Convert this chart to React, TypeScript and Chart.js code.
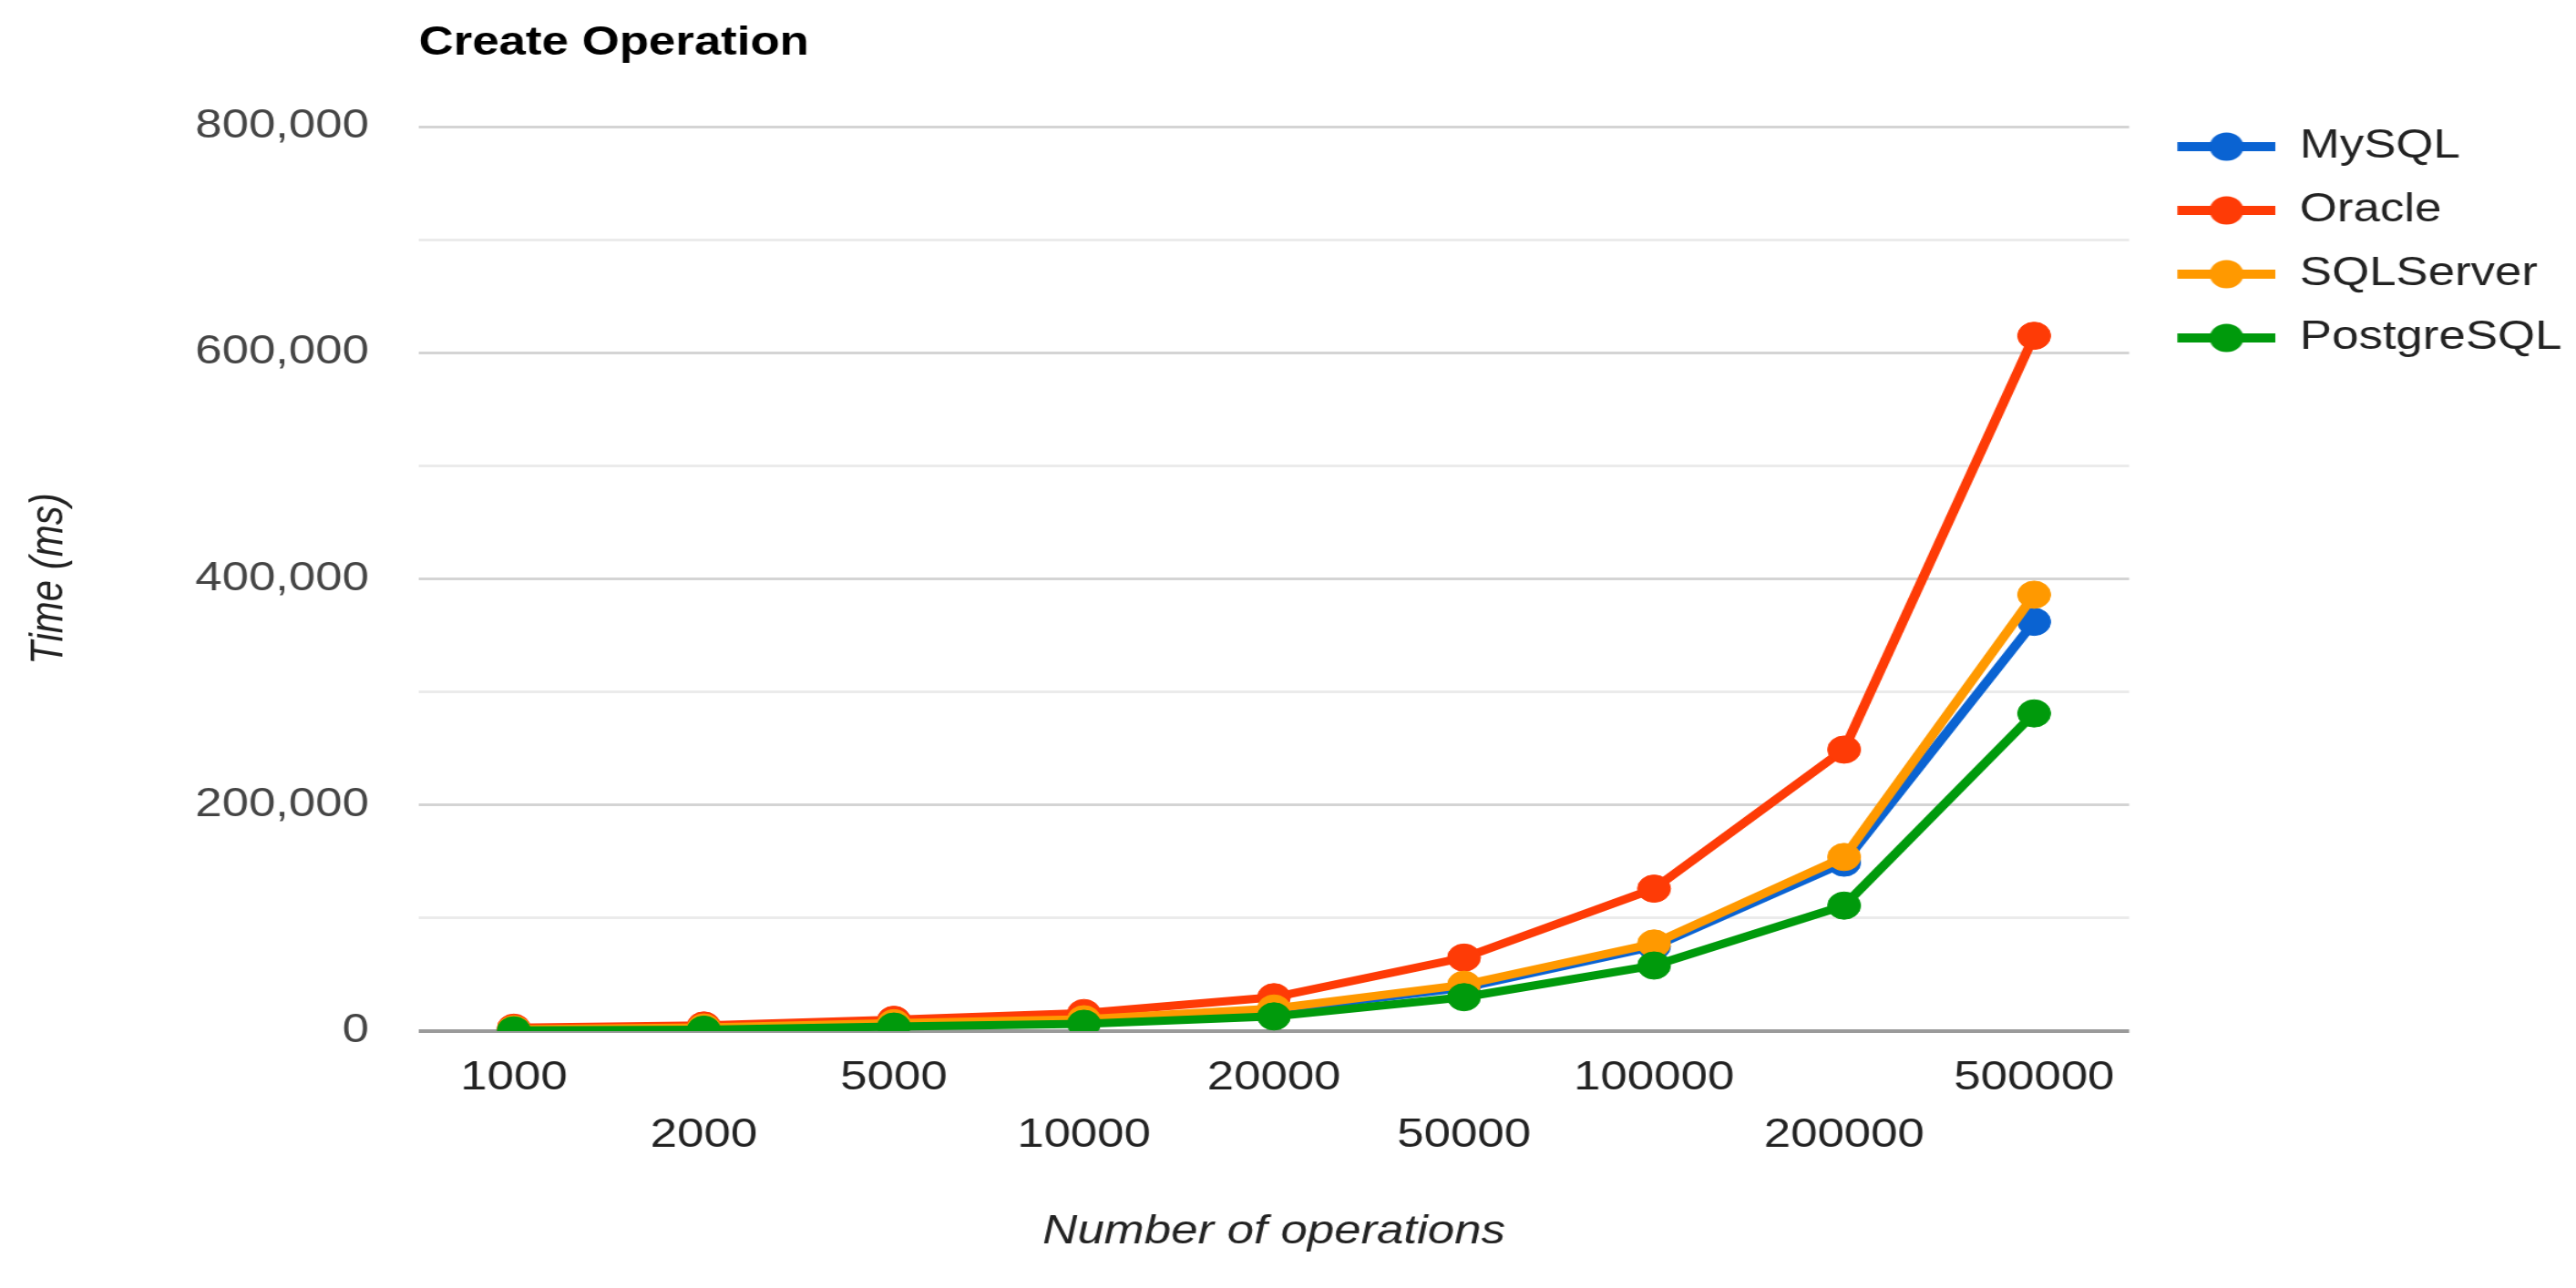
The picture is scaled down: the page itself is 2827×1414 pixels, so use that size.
import React, { useEffect, useRef } from 'react';
import { Chart, registerables } from 'chart.js';

Chart.register(...registerables);

// ---- data ----
const categories = ['1000', '2000', '5000', '10000', '20000', '50000', '100000', '200000', '500000'];
const seriesNames = ['MySQL', 'Oracle', 'SQLServer', 'PostgreSQL'];
const mysqlValues = [1500, 2800, 6000, 9500, 18500, 38500, 75000, 149000, 362000];
const oracleValues = [3000, 5000, 10000, 16000, 30000, 65000, 126000, 249000, 615000];
const sqlServerValues = [1700, 3200, 7000, 10500, 20000, 41000, 77500, 154000, 386000];
const postgresValues = [700, 1300, 4000, 6500, 13000, 30000, 58000, 111000, 281000];
const seriesColors = ['#0a63d2', '#fe3b06', '#ff9900', '#009a0c'];
const titleText = 'Create Operation';
const xTitleText = 'Number of operations';
const yTitleText = 'Time (ms)';
const yMin = 0;
const yMax = 800000;
const yStep = 100000;
const yLabelStep = 200000;

// ---- layout ----
const W = 2827;
const H = 1414;
const SX = 1.2;
const CW = Math.round(W / SX);
const FAMILY = '"Liberation Sans", Arial, sans-serif';

function legendImage(color: string) {
  const c = document.createElement('canvas');
  c.width = 108;
  c.height = 34;
  const g = c.getContext('2d')!;
  g.strokeStyle = color;
  g.lineWidth = 10;
  g.beginPath();
  g.moveTo(18, 17);
  g.lineTo(108, 17);
  g.stroke();
  g.fillStyle = color;
  g.beginPath();
  g.arc(63, 17, 15.5, 0, Math.PI * 2);
  g.fill();
  return c;
}

export default function App() {
  const ref = useRef<HTMLCanvasElement>(null);

  useEffect(() => {
    const canvas = ref.current!;
    const imgs = seriesColors.map(legendImage);
    const values = [mysqlValues, oracleValues, sqlServerValues, postgresValues];
    const chart = new Chart(canvas, {
      type: 'line',
      data: {
        labels: categories,
        datasets: seriesNames.map((name, i) => ({
          label: name,
          data: values[i],
          borderColor: seriesColors[i],
          backgroundColor: seriesColors[i],
          borderWidth: 9,
          pointRadius: 15,
          pointHoverRadius: 15,
          pointBorderWidth: 1,
          pointBackgroundColor: seriesColors[i],
          pointBorderColor: seriesColors[i],
          tension: 0,
          fill: false,
          order: 4 - i,
        })),
      },
      options: {
        responsive: false,
        animation: false,
        devicePixelRatio: 1,
        layout: { padding: { right: 3 } },
        plugins: {
          title: {
            display: true,
            text: titleText,
            align: 'start',
            fullSize: false,
            color: '#000',
            font: { family: FAMILY, size: 44, weight: 'bold', lineHeight: 1.2 },
            padding: { top: 21.6, bottom: 64.6 },
          },
          legend: {
            position: 'right',
            align: 'start',
            fullSize: true,
            title: {
              display: true,
              text: ' ',
              color: 'rgba(0,0,0,0)',
              font: { size: 10, lineHeight: 1 },
              padding: { top: 103, bottom: 0 },
            },
            labels: {
              usePointStyle: true,
              pointStyleWidth: 108,
              boxHeight: 44,
              padding: 26,
              color: '#222',
              font: { family: FAMILY, size: 44 },
              sort: (a: any, b: any) => a.datasetIndex - b.datasetIndex,
              generateLabels: (ch: any) =>
                (Chart.defaults.plugins.legend.labels as any)
                  .generateLabels(ch)
                  .map((it: any) => ({ ...it, pointStyle: imgs[it.datasetIndex] })),
            },
          },
          tooltip: { enabled: false },
        },
        scales: {
          x: {
            type: 'category',
            offset: true,
            grid: { display: false, drawTicks: false },
            border: { display: false },
            ticks: {
              autoSkip: false,
              maxRotation: 0,
              minRotation: 0,
              padding: 20.5,
              color: '#222',
              font: { family: FAMILY, size: 44, lineHeight: 1.43 },
              callback: function (this: any, v: any, i: number) {
                const l = this.getLabelForValue(v);
                return i % 2 === 1 ? ['', l] : l;
              },
            },
            title: {
              display: true,
              text: xTitleText,
              color: '#222',
              font: { family: FAMILY, size: 44, style: 'italic', lineHeight: 1.2 },
              padding: { top: 0, bottom: 34.6 },
            },
            afterFit: (s: any) => {
              s.height = 282;
            },
          },
          y: {
            min: yMin,
            max: yMax,
            ticks: {
              stepSize: yStep,
              padding: 45.5,
              color: '#444',
              font: { family: FAMILY, size: 44 },
              callback: (v: any) => (Number(v) % yLabelStep === 0 ? Number(v).toLocaleString('en-US') : ''),
            },
            grid: {
              drawTicks: false,
              color: (c: any) =>
                c.tick.value === 0 ? '#9a9a9a' : c.tick.value % yLabelStep === 0 ? '#d4d4d4' : '#ebebeb',
              lineWidth: (c: any) => (c.tick.value === 0 ? 4 : 3),
            },
            border: { display: false },
            title: {
              display: true,
              text: yTitleText,
              color: '#222',
              font: { family: FAMILY, size: 42, style: 'italic', lineHeight: 1.2 },
              padding: { top: 19.8, bottom: 0 },
            },
            afterFit: (s: any) => {
              s.width = 383;
            },
          },
        },
      } as any,
    });
    return () => chart.destroy();
  }, []);

  return (
    <div
      style={{
        position: 'fixed',
        left: 0,
        top: 0,
        width: W,
        height: H,
        overflow: 'hidden',
        background: '#fff',
      }}
    >
      <canvas
        ref={ref}
        width={CW}
        height={H}
        style={{
          width: CW,
          height: H,
          display: 'block',
          transform: `scaleX(${W / CW})`,
          transformOrigin: '0 0',
        }}
      />
    </div>
  );
}
